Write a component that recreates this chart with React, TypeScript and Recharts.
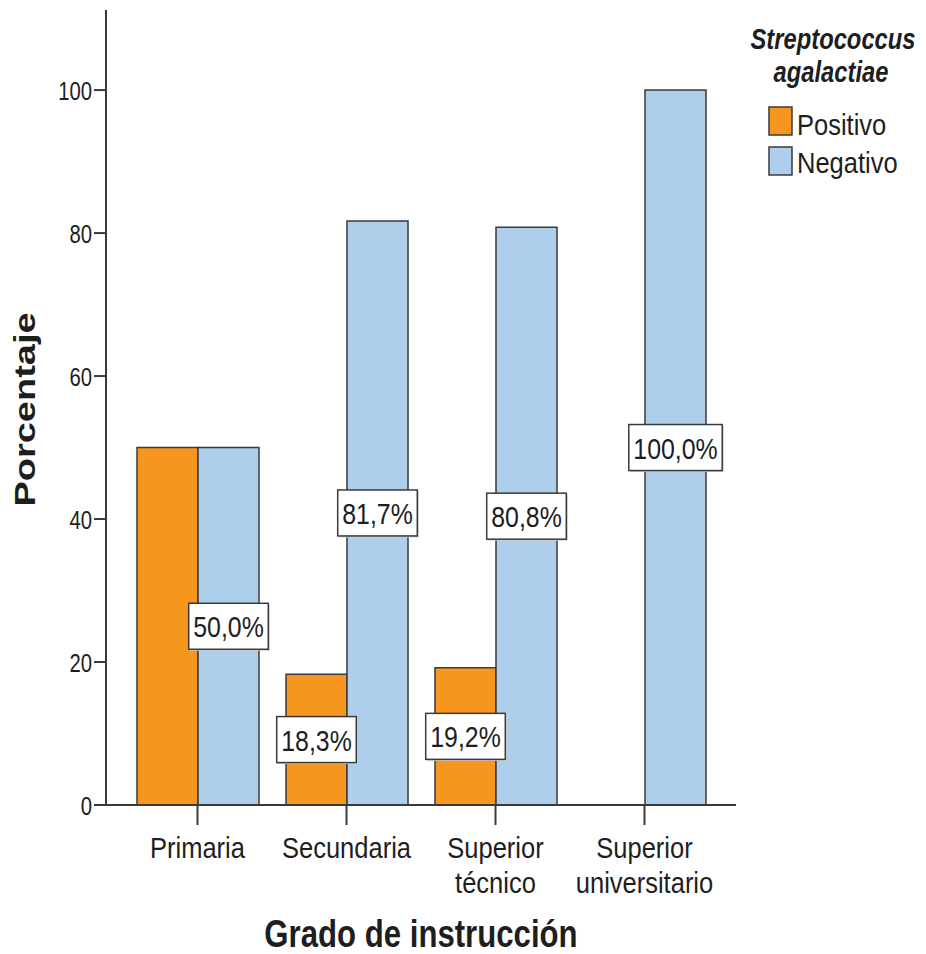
import React from 'react';
import { BarChart, Bar, XAxis, YAxis, LabelList, Legend } from 'recharts';

const categories = ['Primaria', 'Secundaria', 'Superior técnico', 'Superior universitario'];
const positivo = [50.0, 18.3, 19.2, 0];
const negativo = [50.0, 81.7, 80.8, 100.0];
const positivoLabels: (string | null)[] = [null, '18,3%', '19,2%', null];
const negativoLabels: (string | null)[] = ['50,0%', '81,7%', '80,8%', '100,0%'];
const yTicks = [0, 20, 40, 60, 80, 100];
const legendTitle = ['Streptococcus', 'agalactiae'];
const seriesNames = ['Positivo', 'Negativo'];
const xTitle = 'Grado de instrucción';
const yTitle = 'Porcentaje';

const data = categories.map((c, i) => ({
  cat: c,
  pos: positivo[i],
  neg: negativo[i],
  posLabel: positivoLabels[i],
  negLabel: negativoLabels[i],
}));

const FONT = "'Liberation Sans', Arial, Helvetica, sans-serif";
const ORANGE = '#F7961F';
const BLUE = '#AECFEC';
const LINE = '#3a3a3a';
const TEXT = '#1e1e1e';

function SText(props: any) {
  const { x, y, sx = 0.83, size, weight, fstyle, anchor, children, fill = TEXT } = props;
  return (
    <text
      transform={`translate(${x},${y}) scale(${sx},1)`}
      x={0}
      y={0}
      fontSize={size}
      fontFamily={FONT}
      fontWeight={weight}
      fontStyle={fstyle}
      textAnchor={anchor}
      fill={fill}
    >
      {children}
    </text>
  );
}

const CW: Record<string, number> = { ',': 0.278, '%': 0.889 };
function measure(s: string, size: number, sx: number) {
  let w = 0;
  for (const ch of s) w += CW[ch] !== undefined ? CW[ch] : 0.556;
  return w * size * sx;
}

const renderBoxLabel = (props: any) => {
  const { x, y, width, height, value } = props;
  if (value === null || value === undefined || value === '') return null;
  const cx = Number(x) + Number(width) / 2;
  const cy = Number(y) + Number(height) / 2;
  const tw = measure(String(value), 30, 0.83) + 9;
  const bh = 46;
  return (
    <g>
      <rect x={cx - tw / 2 + 1.5} y={cy - bh / 2 + 1.5} width={tw} height={bh} fill="#cfcfcf" />
      <rect x={cx - tw / 2} y={cy - bh / 2} width={tw} height={bh} fill="#ffffff" stroke={LINE} strokeWidth={1.5} />
      <SText x={cx} y={cy + 11} size={30} sx={0.83} anchor="middle">{value}</SText>
    </g>
  );
};

const XTick = (props: any) => {
  const { x, y, payload } = props;
  const s = String(payload.value);
  const idx = s.indexOf(' ');
  const lines = idx > 0 ? [s.slice(0, idx), s.slice(idx + 1)] : [s];
  return (
    <g>
      {lines.map((l, i) => (
        <SText key={i} x={x} y={y + 31 + i * 35} size={30} sx={0.85} anchor="middle">{l}</SText>
      ))}
    </g>
  );
};

const YTick = (props: any) => {
  const { x, y, payload } = props;
  return <SText x={x} y={y + 9.5} size={26} sx={0.78} anchor="end">{payload.value}</SText>;
};

const XTitle = (props: any) => {
  const vb = props.viewBox || {};
  return (
    <SText x={vb.x + vb.width / 2} y={947} size={38} sx={0.82} weight="bold" anchor="middle">
      {xTitle}
    </SText>
  );
};

const YTitle = (props: any) => {
  const vb = props.viewBox || {};
  const cy = vb.y + vb.height / 2 + 2;
  return (
    <text
      transform={`translate(35,${cy}) rotate(-90) scale(1,0.78)`}
      x={0}
      y={0}
      fontSize={38}
      fontFamily={FONT}
      fontWeight="bold"
      textAnchor="middle"
      fill={TEXT}
    >
      {yTitle}
    </text>
  );
};

const renderLegend = (props: any) => {
  const raw = props.payload || [];
  const payload = [...raw].sort(
    (a: any, b: any) => seriesNames.indexOf(String(a.value)) - seriesNames.indexOf(String(b.value))
  );
  return (
    <svg width={188} height={190}>
      <SText x={95} y={49} size={29} sx={0.82} weight="bold" fstyle="italic" anchor="middle">{legendTitle[0]}</SText>
      <SText x={93} y={82} size={29} sx={0.82} weight="bold" fstyle="italic" anchor="middle">{legendTitle[1]}</SText>
      {payload.map((p: any, i: number) => (
        <g key={i}>
          <rect x={31} y={107 + i * 40} width={23} height={28} fill={p.color} stroke={LINE} strokeWidth={1.5} />
          <SText x={59} y={135 + i * 38} size={30} sx={0.85}>{p.value}</SText>
        </g>
      ))}
    </svg>
  );
};

export default function App() {
  const axisLine = { stroke: LINE, strokeWidth: 2 };
  return (
    <div style={{ position: 'absolute', left: 0, top: 0, width: 926, height: 954, background: '#fff' }}>
      <BarChart
        width={926}
        height={954}
        data={data}
        margin={{ top: 10, right: 190, bottom: 0, left: 0 }}
        barGap={0}
      >
        <XAxis
          dataKey="cat"
          height={149}
          tickSize={20}
          tickMargin={2}
          padding={{ left: 17, right: 17 }}
          interval={0}
          tick={<XTick />}
          tickLine={{ stroke: LINE, strokeWidth: 2 }}
          axisLine={axisLine}
          label={{ content: <XTitle /> }}
        />
        <XAxis
          xAxisId="top"
          dataKey="cat"
          orientation="top"
          height={0}
          padding={{ left: 17, right: 17 }}
          tick={false}
          tickLine={false}
          axisLine={axisLine}
        />
        <YAxis
          width={106}
          domain={[0, 111.2]}
          ticks={yTicks}
          interval={0}
          tickSize={12}
          tickMargin={2}
          tick={<YTick />}
          tickLine={{ stroke: LINE, strokeWidth: 2 }}
          axisLine={axisLine}
          label={{ content: <YTitle /> }}
        />
        <YAxis
          yAxisId="right"
          orientation="right"
          width={0}
          domain={[0, 111.2]}
          tick={false}
          tickLine={false}
          axisLine={axisLine}
        />
        <Legend
          layout="horizontal"
          verticalAlign="middle"
          align="center"
          content={renderLegend}
          wrapperStyle={{ left: 738, top: 0, width: 188, height: 190 }}
        />
        <Bar dataKey="pos" name="Positivo" fill={ORANGE} stroke={LINE} strokeWidth={1.5} barSize={61} isAnimationActive={false}>
          <LabelList dataKey="posLabel" content={renderBoxLabel} />
        </Bar>
        <Bar dataKey="neg" name="Negativo" fill={BLUE} stroke={LINE} strokeWidth={1.5} barSize={61} isAnimationActive={false}>
          <LabelList dataKey="negLabel" content={renderBoxLabel} />
        </Bar>
      </BarChart>
    </div>
  );
}
